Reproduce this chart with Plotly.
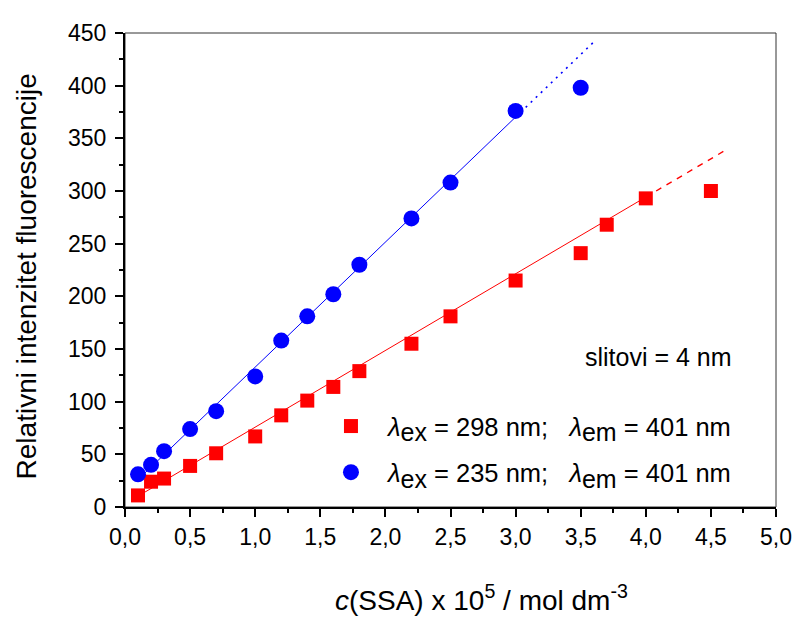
import plotly.graph_objects as go

# ---- data ----
x_red = [0.1, 0.2, 0.3, 0.5, 0.7, 1.0, 1.2, 1.4, 1.6, 1.8, 2.2, 2.5, 3.0, 3.5, 3.7, 4.0, 4.5]
y_red = [11, 24, 27, 39, 51, 67, 87, 101, 114, 129, 155, 181, 215, 241, 268, 293, 300]
x_blue = [0.1, 0.2, 0.3, 0.5, 0.7, 1.0, 1.2, 1.4, 1.6, 1.8, 2.2, 2.5, 3.0, 3.5]
y_blue = [31, 40, 53, 74, 91, 124, 158, 181, 202, 230, 274, 308, 376, 398]

# linear fit lines: slope, intercept, solid range, extrapolated end
red_fit = dict(slope=72.8, intercept=3.0, x0=0.1, x1=4.0, x_end=4.6)
blue_fit = dict(slope=118.7, intercept=14.1, x0=0.1, x1=3.0, x_end=3.61)

SUB = '<sub><span style="font-size:25px">{}</span></sub>'
name_red = "<i>λ</i>" + SUB.format("ex") + " = 298 nm;\u00a0\u00a0 <i>λ</i>" + SUB.format("em") + " = 401 nm"
name_blue = "<i>λ</i>" + SUB.format("ex") + " = 235 nm;\u00a0\u00a0 <i>λ</i>" + SUB.format("em") + " = 401 nm"

x_ticks = [0.0, 0.5, 1.0, 1.5, 2.0, 2.5, 3.0, 3.5, 4.0, 4.5, 5.0]
y_ticks = [0, 50, 100, 150, 200, 250, 300, 350, 400, 450]

RED = "#ff0000"
BLUE = "#0000ff"
FONT = "Liberation Sans, Arial, sans-serif"

# page body has an 8px margin, so the figure is drawn at (8, 8)
W, H = 796, 613
L, R, T, B = 117, 21, 16, 114
PW = W - L - R
PH = H - T - B


def px_x(p):  # page x pixel -> paper coordinate
    return (p - 8 - L) / PW


def px_y(p):  # page y pixel -> paper coordinate
    return (H - B - (p - 8)) / PH


def line_y(f, x):
    return f["slope"] * x + f["intercept"]


fig = go.Figure()

# fit lines
for f, col, dash, w in [(red_fit, RED, "6px,6px", 1.4), (blue_fit, BLUE, "2px,5px", 1.6)]:
    fig.add_trace(go.Scatter(x=[f["x0"], f["x1"]], y=[line_y(f, f["x0"]), line_y(f, f["x1"])],
                             mode="lines", line=dict(color=col, width=1), showlegend=False, hoverinfo="skip"))
    fig.add_trace(go.Scatter(x=[f["x1"], f["x_end"]], y=[line_y(f, f["x1"]), line_y(f, f["x_end"])],
                             mode="lines", line=dict(color=col, width=w, dash=dash), showlegend=False,
                             hoverinfo="skip"))

# data points
fig.add_trace(go.Scatter(x=x_red, y=y_red, mode="markers", name=name_red, legendgroup="r",
                         marker=dict(symbol="square", size=14, color=RED, line=dict(width=0))))
fig.add_trace(go.Scatter(x=x_blue, y=y_blue, mode="markers", name=name_blue, legendgroup="b",
                         marker=dict(symbol="circle", size=16, color=BLUE, line=dict(width=0))))

fig.add_annotation(text="slitovi = 4 nm", xref="paper", yref="paper", x=px_x(741), y=px_y(354),
                   xanchor="right", yanchor="middle", showarrow=False,
                   font=dict(family=FONT, size=25, color="black"))

# axis titles
fig.add_annotation(text="<i>c</i>(SSA) x 10<sup>5</sup> / mol dm<sup>-3</sup>",
                   xref="paper", yref="paper", x=px_x(485), y=px_y(600),
                   xanchor="center", yanchor="middle", showarrow=False,
                   font=dict(family=FONT, size=28, color="black"))
fig.add_annotation(text="Relativni intenzitet fluorescencije", textangle=-90,
                   xref="paper", yref="paper", x=px_x(25), y=px_y(272),
                   xanchor="center", yanchor="middle", showarrow=False,
                   font=dict(family=FONT, size=28, color="black"))

fig.add_shape(type="rect", xref="paper", yref="paper", x0=0, x1=1, y0=0, y1=1,
              line=dict(color="#333333", width=1), layer="below")

fig.update_layout(
    width=W, height=H,
    margin=dict(l=L, r=R, t=T, b=B),
    paper_bgcolor="white", plot_bgcolor="white",
    separators=", ",
    font=dict(family=FONT, color="black"),
    showlegend=True,
    legend=dict(x=px_x(316), y=px_y(401), xanchor="left", yanchor="top",
                bgcolor="rgba(0,0,0,0)", borderwidth=0, font=dict(family=FONT, size=25.5),
                itemwidth=64, tracegroupgap=10, traceorder="grouped"),
    xaxis=dict(range=[0, 5], tickmode="array", tickvals=x_ticks, tickformat=".1f",
               ticks="outside", ticklen=8, tickwidth=2, tickcolor="black",
               minor=dict(dtick=0.25, ticks="outside", ticklen=4, tickwidth=2, tickcolor="black"),
               showline=True, linewidth=2, linecolor="black", mirror=False,
               showgrid=False, zeroline=False,
               tickfont=dict(family=FONT, size=23)),
    yaxis=dict(range=[0, 450], tickmode="array", tickvals=y_ticks,
               ticks="outside", ticklen=8, tickwidth=2, tickcolor="black",
               minor=dict(dtick=25, ticks="outside", ticklen=4, tickwidth=2, tickcolor="black"),
               showline=True, linewidth=2, linecolor="black", mirror=False,
               showgrid=False, zeroline=False, ticklabelstandoff=4,
               tickfont=dict(family=FONT, size=23)),
)

fig.write_html("out.html")
